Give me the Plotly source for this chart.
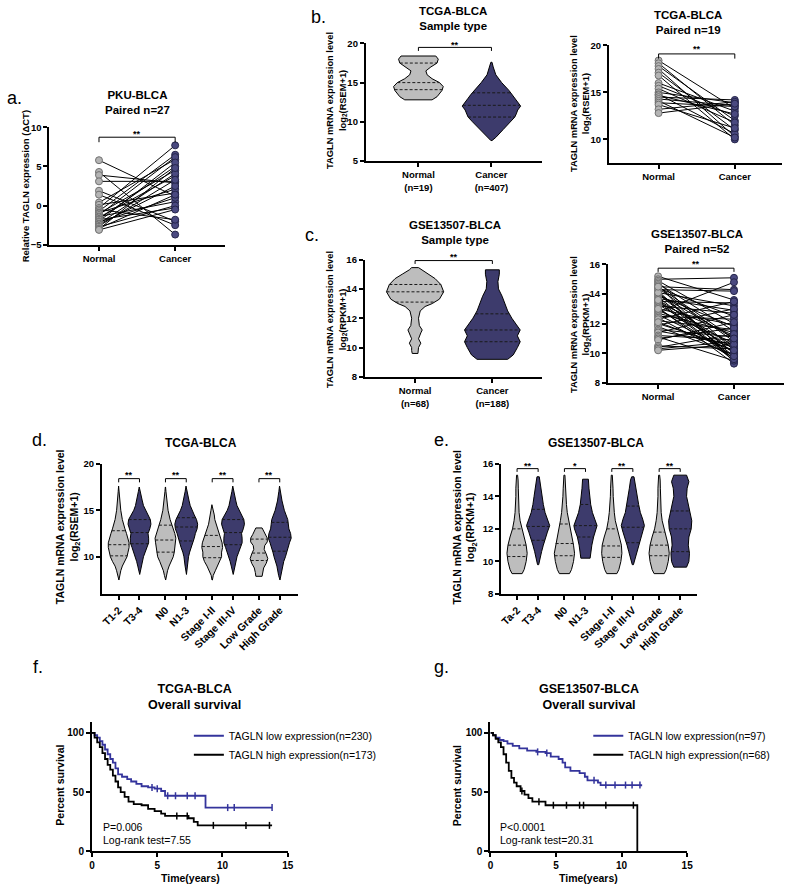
import plotly.graph_objects as go
import numpy as np

W, H = 794, 892
FONT = "Liberation Sans, Arial, sans-serif"
GRAY = "#bdbdbd"
NAVY = "#3d3b6c"
MK_GRAY = "#b4b4b4"
MK_NAVY = "#4a4980"
BLUE = "#34349c"

# ---------------- data ----------------
PAIR_LABELS = ["Normal", "Cancer"]

# a. PKU-BLCA paired (delta CT)
A_NORMAL = [5.8, 4.3, 3.9, 3.1, 1.9, 1.4, 0.4, 0.1, -0.3, -0.5, -0.7, -0.9, -1.0, -1.2,
            -1.4, -1.5, -1.7, -1.8, -2.0, -2.1, -2.3, -2.4, -2.6, -2.7, -2.9, -3.0, -3.1]
A_CANCER = [1.2, -3.7, 2.9, 3.1, -2.0, -2.5, 5.9, 1.6, 7.7, -1.8, 6.5, 2.1, 4.5, 6.2,
            0.5, 3.8, 5.0, -0.3, 5.5, 1.0, 4.1, 2.5, 3.3, 0.0, 1.4, 4.8, -0.5]

# b. TCGA paired n=19
B_PAIR_NORMAL = [18.4, 18.1, 17.8, 17.5, 17.1, 16.8, 16.0, 15.7, 15.4, 15.0, 14.8, 14.7,
                 14.5, 14.3, 14.1, 13.9, 13.7, 13.2, 12.8]
B_PAIR_CANCER = [13.3, 11.5, 12.0, 10.3, 11.0, 10.0, 13.0, 12.5, 11.8, 13.9, 10.6, 12.7,
                 14.2, 13.6, 10.2, 13.5, 11.2, 14.0, 13.8]

# c. GSE13507 paired n=52
C_PAIR_NORMAL = [15.2, 15.0, 14.9, 14.8, 14.7, 14.6, 14.5, 14.4, 14.4, 14.3, 14.2, 14.1, 14.0,
                 14.0, 13.9, 13.8, 13.7, 13.6, 13.5, 13.5, 13.4, 13.3, 13.2, 13.1, 13.0, 12.9,
                 12.8, 12.7, 12.6, 12.5, 12.4, 12.2, 12.0, 11.9, 11.8, 11.6, 11.5, 11.4, 11.2,
                 11.1, 11.0, 10.9, 10.5, 10.4, 10.3, 10.2, 13.6, 14.1, 12.3, 13.0, 14.5, 12.1]
C_PAIR_CANCER = [13.6, 15.1, 12.0, 10.2, 11.5, 9.4, 14.3, 10.8, 12.5, 14.2, 9.6, 13.2, 10.0,
                 11.0, 11.8, 9.8, 12.9, 10.5, 13.4, 9.5, 11.2, 10.3, 12.7, 9.3, 11.9, 10.7,
                 14.8, 11.4, 10.1, 12.3, 9.7, 11.6, 10.4, 13.0, 9.9, 11.1, 10.6, 12.6, 10.9,
                 9.5, 11.7, 12.1, 10.3, 11.3, 10.8, 10.6, 9.6, 10.0, 13.5, 9.8, 11.0, 10.2]

# b. TCGA sample type violins (level, relative width), quartiles
B_VIOLIN_LABELS = ["Normal<br>(n=19)", "Cancer<br>(n=407)"]
B_NORMAL_Y = [12.8, 13.2, 14.0, 14.5, 15.0, 15.5, 16.0, 16.5, 17.0, 17.5, 18.0, 18.4]
B_NORMAL_W = [0.55, 0.75, 0.95, 1.0, 0.85, 0.55, 0.35, 0.3, 0.5, 0.75, 0.8, 0.7]
B_NORMAL_Q = [14.1, 15.0, 17.5]
B_CANCER_Y = [7.6, 8.0, 9.0, 10.0, 10.6, 11.0, 11.5, 12.0, 12.5, 13.0, 13.5, 14.0, 15.0, 16.0, 17.0, 17.6]
B_CANCER_W = [0.02, 0.15, 0.4, 0.65, 0.8, 0.85, 0.9, 1.0, 0.9, 0.8, 0.7, 0.6, 0.35, 0.15, 0.06, 0.02]
B_CANCER_Q = [10.6, 12.1, 13.7]

# c. GSE13507 sample type violins
C_VIOLIN_LABELS = ["Normal<br>(n=68)", "Cancer<br>(n=188)"]
C_NORMAL_Y = [9.6, 9.8, 10.0, 10.3, 10.6, 11.0, 11.2, 11.5, 12.0, 12.5, 12.8, 13.0, 13.3, 13.8,
              14.3, 14.7, 15.0, 15.3, 15.45]
C_NORMAL_W = [0.1, 0.12, 0.12, 0.2, 0.12, 0.2, 0.25, 0.15, 0.12, 0.18, 0.35, 0.6, 0.85, 1.0,
              0.9, 0.7, 0.45, 0.2, 0.12]
C_NORMAL_Q = [13.1, 13.8, 14.3]
C_CANCER_Y = [9.2, 9.5, 10.0, 10.4, 10.8, 11.2, 11.6, 12.0, 12.5, 13.0, 13.5, 14.0, 14.5, 15.0, 15.3]
C_CANCER_W = [0.55, 0.75, 0.9, 1.0, 0.9, 1.0, 0.85, 0.7, 0.55, 0.45, 0.35, 0.22, 0.2, 0.25, 0.25]
C_CANCER_Q = [10.4, 11.2, 12.3]

# d. TCGA clinical subgroups
D_LABELS = ["T1-2", "T3-4", "N0", "N1-3", "Stage I-II", "Stage III-IV", "Low Grade", "High Grade"]
D_Y = [
    [7.5, 8.0, 8.5, 9.0, 9.5, 10.0, 10.5, 11.0, 11.5, 12.0, 12.5, 13.0, 13.5, 14.0, 15.0, 16.0, 17.0, 17.6],
    [8.1, 8.5, 9.0, 9.5, 10.0, 10.5, 11.0, 11.5, 12.0, 12.5, 13.0, 13.5, 14.0, 14.5, 15.0, 15.5, 16.0, 17.0, 17.5],
    [7.5, 8.0, 8.5, 9.0, 9.5, 10.0, 10.5, 11.0, 11.5, 12.0, 12.5, 13.0, 13.5, 14.0, 15.0, 16.0, 17.0, 17.5],
    [8.1, 9.0, 10.0, 10.5, 11.0, 11.5, 12.0, 12.5, 13.0, 13.5, 14.0, 14.5, 15.0, 15.5, 16.0, 17.0, 17.6],
    [7.5, 8.0, 8.5, 9.0, 9.5, 10.0, 10.5, 11.0, 11.5, 12.0, 12.5, 13.0, 13.5, 14.0, 14.5, 15.0, 15.6],
    [8.1, 8.5, 9.0, 9.5, 10.0, 10.5, 11.0, 11.5, 12.0, 12.5, 13.0, 13.5, 14.0, 14.5, 15.0, 15.5, 16.0, 17.0, 17.6],
    [7.9, 8.3, 8.8, 9.3, 9.8, 10.3, 10.8, 11.2, 11.6, 12.0, 12.4, 12.8, 13.1],
    [7.5, 8.0, 9.0, 9.5, 10.0, 10.5, 11.0, 11.5, 12.0, 12.5, 13.0, 13.5, 14.0, 14.5, 15.0, 16.0, 17.0, 17.6],
]
D_W = [
    [0.02, 0.1, 0.2, 0.35, 0.6, 0.8, 0.9, 1.0, 1.0, 0.9, 0.75, 0.6, 0.45, 0.35, 0.2, 0.1, 0.05, 0.01],
    [0.02, 0.08, 0.15, 0.25, 0.35, 0.5, 0.65, 0.8, 0.8, 0.75, 0.9, 1.0, 0.95, 0.75, 0.5, 0.35, 0.25, 0.1, 0.02],
    [0.02, 0.1, 0.2, 0.35, 0.55, 0.75, 0.85, 0.9, 0.95, 1.0, 0.9, 0.75, 0.6, 0.45, 0.25, 0.12, 0.05, 0.01],
    [0.02, 0.1, 0.2, 0.3, 0.45, 0.6, 0.7, 0.8, 0.95, 1.0, 0.9, 0.7, 0.5, 0.35, 0.25, 0.1, 0.02],
    [0.02, 0.1, 0.3, 0.5, 0.75, 0.9, 0.9, 1.0, 0.95, 0.8, 0.65, 0.5, 0.35, 0.25, 0.2, 0.12, 0.03],
    [0.02, 0.08, 0.15, 0.25, 0.35, 0.5, 0.65, 0.8, 0.8, 0.75, 0.9, 1.0, 0.95, 0.75, 0.5, 0.35, 0.25, 0.1, 0.02],
    [0.3, 0.35, 0.45, 0.7, 0.85, 0.7, 0.5, 0.55, 0.8, 0.8, 0.6, 0.4, 0.3],
    [0.02, 0.1, 0.25, 0.35, 0.5, 0.6, 0.7, 0.85, 1.0, 0.95, 0.8, 0.75, 0.7, 0.55, 0.4, 0.2, 0.08, 0.02],
]
D_Q = [[10.1, 11.3, 12.8], [11.4, 12.6, 14.0], [10.5, 11.8, 13.4], [11.7, 13.2, 14.2],
       [9.9, 11.1, 12.3], [11.3, 12.6, 14.0], [9.6, 10.4, 11.9], [10.6, 12.1, 13.7]]
D_STARS = ["**", "**", "**", "**"]

# e. GSE13507 clinical subgroups
E_LABELS = ["Ta-2", "T3-4", "N0", "N1-3", "Stage I-II", "Stage III-IV", "Low Grade", "High Grade"]
E_Y = [
    [9.25, 9.5, 10.0, 10.5, 11.0, 11.5, 12.0, 12.5, 13.0, 13.5, 14.0, 14.5, 15.0, 15.3],
    [9.8, 10.2, 10.6, 11.0, 11.4, 11.8, 12.2, 12.6, 13.0, 13.5, 14.0, 14.5, 15.0, 15.2],
    [9.25, 9.5, 10.0, 10.5, 11.0, 11.5, 12.0, 12.5, 13.0, 13.5, 14.0, 14.5, 15.0, 15.3],
    [10.2, 10.6, 11.0, 11.5, 12.0, 12.2, 12.6, 13.0, 13.5, 14.0, 14.5, 15.05],
    [9.25, 9.5, 10.0, 10.5, 11.0, 11.5, 12.0, 12.5, 13.0, 13.5, 14.0, 14.5, 15.0, 15.3],
    [9.8, 10.2, 10.6, 11.0, 11.4, 11.8, 12.2, 12.6, 13.0, 13.5, 14.0, 14.5, 15.0, 15.2],
    [9.25, 9.5, 10.0, 10.5, 11.0, 11.5, 12.0, 12.5, 13.0, 13.5, 14.0, 14.5, 15.0, 15.3],
    [9.65, 10.0, 10.5, 11.0, 11.5, 12.0, 12.5, 13.0, 13.5, 14.0, 14.5, 14.9, 15.3],
]
E_W = [
    [0.5, 0.7, 0.9, 1.0, 0.9, 0.7, 0.45, 0.3, 0.2, 0.15, 0.12, 0.12, 0.1, 0.05],
    [0.05, 0.15, 0.3, 0.45, 0.6, 0.8, 1.0, 0.8, 0.6, 0.45, 0.35, 0.25, 0.15, 0.1],
    [0.5, 0.7, 0.9, 1.0, 0.9, 0.75, 0.55, 0.4, 0.28, 0.2, 0.15, 0.12, 0.1, 0.05],
    [0.4, 0.45, 0.55, 0.7, 0.95, 1.0, 0.8, 0.6, 0.45, 0.35, 0.3, 0.25],
    [0.5, 0.7, 0.9, 1.0, 0.95, 0.75, 0.5, 0.35, 0.25, 0.18, 0.14, 0.12, 0.1, 0.05],
    [0.05, 0.2, 0.35, 0.5, 0.65, 0.85, 1.0, 0.85, 0.65, 0.5, 0.4, 0.3, 0.2, 0.1],
    [0.5, 0.7, 0.9, 1.0, 0.9, 0.7, 0.45, 0.3, 0.2, 0.15, 0.12, 0.12, 0.1, 0.05],
    [0.55, 0.75, 0.8, 0.7, 0.75, 0.95, 1.0, 0.85, 0.7, 0.55, 0.6, 0.75, 0.55],
]
E_Q = [[10.3, 11.0, 12.0], [11.3, 12.15, 13.2], [10.35, 11.1, 12.3], [11.5, 12.2, 13.5],
       [10.25, 10.95, 12.0], [11.15, 12.1, 13.4], [10.35, 11.0, 11.8], [10.6, 12.0, 13.1]]
E_STARS = ["**", "*", "**", "**"]

# f. TCGA overall survival (years, percent)
F_LOW_T = [0, 0.2, 0.4, 0.6, 0.8, 1.0, 1.2, 1.4, 1.6, 1.8, 2.0, 2.3, 2.7, 3.0, 3.4, 3.8, 4.3, 4.8, 5.3, 5.6, 8.7, 13.8]
F_LOW_S = [100, 98, 96, 93, 90, 86, 82, 78, 75, 70, 65, 63, 61, 59, 57, 55, 54, 53, 51, 47, 37, 37]
F_LOW_CENS = [4.6, 5.0, 5.8, 6.4, 7.3, 7.9, 10.4, 10.9, 13.8]
F_HIGH_T = [0, 0.2, 0.4, 0.6, 0.8, 1.0, 1.2, 1.4, 1.6, 1.8, 2.0, 2.2, 2.5, 2.8, 3.2, 3.8, 4.3, 4.8, 5.3, 5.6, 7.4, 7.8, 8.1, 13.8]
F_HIGH_S = [100, 96, 92, 88, 83, 78, 73, 69, 64, 59, 54, 50, 46, 42, 40, 39, 36, 34, 32, 30, 28, 25, 22, 22]
F_HIGH_CENS = [6.5, 7.3, 9.3, 11.8, 13.6]
F_NAMES = ["TAGLN low expression(n=230)", "TAGLN high expression(n=173)"]
F_STATS = ["P=0.006", "Log-rank test=7.55"]

# g. GSE13507 overall survival
G_LOW_T = [0, 0.2, 0.4, 0.7, 1.0, 1.3, 1.7, 2.2, 2.8, 3.5, 4.2, 4.6, 5.2, 5.5, 5.7, 6.1, 6.8, 7.2, 7.4, 8.2, 8.4, 11.5]
G_LOW_S = [100, 98, 96, 94, 93, 91, 89, 87, 85, 84, 83, 80, 78, 75, 71, 68, 66, 63, 60, 58, 56, 55]
G_LOW_CENS = [3.6, 4.3, 7.9, 8.8, 9.5, 10.3, 10.8, 11.4]
G_HIGH_T = [0, 0.2, 0.4, 0.6, 0.8, 1.0, 1.2, 1.4, 1.6, 1.8, 2.0, 2.3, 2.6, 2.9, 3.2, 4.2, 11.2]
G_HIGH_S = [100, 98, 95, 92, 88, 82, 75, 68, 62, 58, 55, 51, 48, 45, 42, 39, 0]
G_HIGH_CENS = [2.4, 3.7, 4.8, 5.8, 6.8, 7.1, 8.8, 10.9]
G_NAMES = ["TAGLN low expression(n=97)", "TAGLN high expression(n=68)"]
G_STATS = ["P<0.0001", "Log-rank test=20.31"]

# ---------------- helpers ----------------
fig = go.Figure()
layout = {}
annotations = []
YRANGES = {}


def px_x(p):
    return p / W


def px_y(p):
    return 1 - p / H


def tfont(size=9.5, bold=True):
    return dict(family=FONT, size=size, color="black", weight="bold" if bold else "normal")


def make_axes(n, xpx, ypx, xr, yr, xt, xtt, yt, xangle=0, xfs=9.5, yfs=9.5):
    sx = "" if n == 1 else str(n)
    common = dict(showline=True, linecolor="black", linewidth=2, ticks="outside", ticklen=4,
                  tickwidth=1.5, tickcolor="black", showgrid=False, zeroline=False,
                  fixedrange=True, tickmode="array")
    layout["xaxis" + sx] = dict(domain=[px_x(xpx[0]), px_x(xpx[1])], range=xr, anchor="y" + sx,
                                tickvals=xt, ticktext=xtt, tickangle=xangle, tickfont=tfont(xfs),
                                **common)
    layout["yaxis" + sx] = dict(domain=[px_y(ypx[1]), px_y(ypx[0])], range=yr, anchor="x" + sx,
                                tickvals=yt, tickfont=tfont(yfs), **common)
    YRANGES["y" + sx] = yr
    return "x" + sx, "y" + sx


def note(x, y, text, size=11, bold=True, xanchor="center", yanchor="middle", angle=0):
    annotations.append(dict(x=px_x(x), y=px_y(y), xref="paper", yref="paper", text=text,
                            showarrow=False, font=tfont(size, bold), xanchor=xanchor,
                            yanchor=yanchor, textangle=angle))


def add_violin(xa, ya, center, ys, ws, qs, hw, color):
    ys = np.array(ys, dtype=float)
    ws = np.array(ws, dtype=float) * hw
    x = np.concatenate([center + ws, (center - ws)[::-1], [center + ws[0]]])
    y = np.concatenate([ys, ys[::-1], [ys[0]]])
    fig.add_trace(go.Scatter(x=x, y=y, mode="lines", fill="toself", fillcolor=color,
                             line=dict(color="black", width=1), xaxis=xa, yaxis=ya,
                             showlegend=False, hoverinfo="skip"))
    qx, qy = [], []
    for q in qs:
        w = float(np.interp(q, ys, ws))
        qx += [center - w, center + w, None]
        qy += [q, q, None]
    fig.add_trace(go.Scatter(x=qx, y=qy, mode="lines", line=dict(color="#1a1a1a", width=1, dash="3px,2px"),
                             xaxis=xa, yaxis=ya, showlegend=False, hoverinfo="skip"))


def add_bracket(xa, ya, x0, x1, ytop, yleg, stars, ystar, size=9):
    fig.add_trace(go.Scatter(x=[x0, x0, x1, x1], y=[yleg, ytop, ytop, yleg], mode="lines",
                             line=dict(color="black", width=1), xaxis=xa, yaxis=ya,
                             showlegend=False, hoverinfo="skip", cliponaxis=False))
    lo, hi = YRANGES[ya]
    annotations.append(dict(x=(x0 + x1) / 2, y=(ystar - lo) / (hi - lo), xref=xa,
                            yref=ya + " domain", text=stars, showarrow=False, font=tfont(size),
                            xanchor="center", yanchor="middle", yshift=-2))


def add_pairs(xa, ya, normal, cancer, msize=7):
    lx, ly = [], []
    for nv, cv in zip(normal, cancer):
        lx += [0, 1, None]
        ly += [nv, cv, None]
    fig.add_trace(go.Scatter(x=lx, y=ly, mode="lines", line=dict(color="black", width=1),
                             xaxis=xa, yaxis=ya, showlegend=False, hoverinfo="skip"))
    fig.add_trace(go.Scatter(x=[0] * len(normal), y=normal, mode="markers",
                             marker=dict(size=msize, color=MK_GRAY, line=dict(color="#707070", width=1)),
                             xaxis=xa, yaxis=ya, showlegend=False, cliponaxis=False))
    fig.add_trace(go.Scatter(x=[1] * len(cancer), y=cancer, mode="markers",
                             marker=dict(size=msize, color=MK_NAVY, line=dict(color="#25254a", width=1)),
                             xaxis=xa, yaxis=ya, showlegend=False, cliponaxis=False))


def add_surv(xa, ya, t, s, cens, color, name, legend):
    fig.add_trace(go.Scatter(x=t, y=s, mode="lines", line=dict(color=color, width=1.8, shape="hv"),
                             name=name, legend=legend, xaxis=xa, yaxis=ya, cliponaxis=False))
    idx = np.searchsorted(np.array(t), np.array(cens), side="right") - 1
    cy = [s[i] for i in idx]
    fig.add_trace(go.Scatter(x=cens, y=cy, mode="markers",
                             marker=dict(symbol="line-ns", size=5, line=dict(color=color, width=1.5)),
                             xaxis=xa, yaxis=ya, showlegend=False, hoverinfo="skip", cliponaxis=False))


YT_RSEM = "TAGLN mRNA expression level<br>log<sub>2</sub>(RSEM+1)"
YT_RPKM = "TAGLN mRNA expression level<br>log<sub>2</sub>(RPKM+1)"

# ---------------- panel a ----------------
xa, ya = make_axes(1, (47, 225), (123, 242), [-0.65, 1.66], [-5, 10], [0, 1], PAIR_LABELS, [-5, 0, 5, 10])
add_pairs(xa, ya, A_NORMAL, A_CANCER)
add_bracket(xa, ya, 0, 1, 8.74, 8.1, "**", 9.45)
note(2, 93, "a.", 18, False, "left")
note(136, 98, "PKU-BLCA<br>Paired n=27", 11.5)
note(23, 183, "Relative TAGLN expression (ΔCT)", 9.5, True, angle=-90)

# ---------------- panel b left ----------------
xa, ya = make_axes(2, (367, 545), (38, 157), [-0.72, 1.69], [5, 20], [0, 1], B_VIOLIN_LABELS, [5, 10, 15, 20])
add_violin(xa, ya, 0, B_NORMAL_Y, B_NORMAL_W, B_NORMAL_Q, 0.34, GRAY)
add_violin(xa, ya, 1, B_CANCER_Y, B_CANCER_W, B_CANCER_Q, 0.4, NAVY)
add_bracket(xa, ya, 0, 1, 19.5, 19.05, "**", 20.1)
note(310, 11, "b.", 18, False, "left")
note(455, 13, "TCGA-BLCA<br>Sample type", 11.5)
note(338, 96, YT_RSEM, 9.3, True, angle=-90)

# ---------------- panel b right ----------------
xa, ya = make_axes(3, (613, 788), (40, 159), [-0.65, 1.62], [7.5, 20], [0, 1], PAIR_LABELS, [10, 15, 20])
add_pairs(xa, ya, B_PAIR_NORMAL, B_PAIR_CANCER)
add_bracket(xa, ya, 0, 1, 19.1, 18.6, "**", 19.8)
note(693, 17, "TCGA-BLCA<br>Paired n=19", 11.5)
note(584, 99, YT_RSEM, 9.3, True, angle=-90)

# ---------------- panel c left ----------------
xa, ya = make_axes(4, (366, 545), (257, 376), [-0.65, 1.64], [8, 16], [0, 1], C_VIOLIN_LABELS, [8, 10, 12, 14, 16])
add_violin(xa, ya, 0, C_NORMAL_Y, C_NORMAL_W, C_NORMAL_Q, 0.37, GRAY)
add_violin(xa, ya, 1, C_CANCER_Y, C_CANCER_W, C_CANCER_Q, 0.36, NAVY)
add_bracket(xa, ya, 0, 1, 15.93, 15.7, "**", 16.3)
note(303, 232, "c.", 18, False, "left")
note(457, 230, "GSE13507-BLCA<br>Sample type", 11.5)
note(338, 318, YT_RPKM, 9.3, True, angle=-90)

# ---------------- panel c right ----------------
xa, ya = make_axes(5, (612, 790), (262, 382), [-0.66, 1.66], [8, 16], [0, 1], PAIR_LABELS, [8, 10, 12, 14, 16])
add_pairs(xa, ya, C_PAIR_NORMAL, C_PAIR_CANCER)
add_bracket(xa, ya, 0, 1, 15.75, 15.5, "**", 16.2)
note(702, 239, "GSE13507-BLCA<br>Paired n=52", 11.5)
note(584, 323, YT_RPKM, 9.3, True, angle=-90)

# ---------------- panel d ----------------
pos = [(i // 2) * 2.25 + (i % 2) for i in range(8)]
xa, ya = make_axes(6, (100, 298), (464, 596), [-0.81, 8.61], [6, 20], pos, D_LABELS, [10, 15, 20], xangle=-45, xfs=10.5)
for i in range(8):
    add_violin(xa, ya, pos[i], D_Y[i], D_W[i], D_Q[i], 0.5 if i % 2 == 0 else 0.55, GRAY if i % 2 == 0 else NAVY)
for k in range(4):
    add_bracket(xa, ya, pos[2 * k], pos[2 * k + 1], 18.4, 18.0, D_STARS[k], 19.0)
note(27, 440, "d.", 18, False, "left")
note(200, 443, "TCGA-BLCA", 12)
note(66, 528, YT_RSEM, 10.5, True, angle=-90)

# ---------------- panel e ----------------
xa, ya = make_axes(7, (504, 702), (464, 596), [-0.75, 8.55], [8, 16], pos, E_LABELS, [8, 10, 12, 14, 16], xangle=-45, xfs=10.5)
for i in range(8):
    add_violin(xa, ya, pos[i], E_Y[i], E_W[i], E_Q[i], 0.48 if i % 2 == 0 else 0.55, GRAY if i % 2 == 0 else NAVY)
for k in range(4):
    add_bracket(xa, ya, pos[2 * k], pos[2 * k + 1], 15.7, 15.5, E_STARS[k], 16.0)
note(434, 440, "e.", 18, False, "left")
note(600, 443, "GSE13507-BLCA", 12)
note(467, 528, YT_RPKM, 10.5, True, angle=-90)

# ---------------- panel f ----------------
xa, ya = make_axes(8, (90, 288), (726, 857), [0, 15], [0, 109], [0, 5, 10, 15], ["0", "5", "10", "15"], [0, 50, 100], xfs=10, yfs=10)
add_surv(xa, ya, F_LOW_T, F_LOW_S, F_LOW_CENS, BLUE, F_NAMES[0], "legend")
add_surv(xa, ya, F_HIGH_T, F_HIGH_S, F_HIGH_CENS, "black", F_NAMES[1], "legend")
note(28, 670, "f.", 18, False, "left")
note(194, 700, "TCGA-BLCA<br>Overall survival", 12.5)
note(58, 790, "Percent survival", 10.5, True, angle=-90)
note(190, 884, "Time(years)", 10.5)
note(99, 832, F_STATS[0], 10.5, False, "left")
note(99, 845, F_STATS[1], 10.5, False, "left")

# ---------------- panel g ----------------
xa, ya = make_axes(9, (493, 692), (726, 857), [0, 15], [0, 109], [0, 5, 10, 15], ["0", "5", "10", "15"], [0, 50, 100], xfs=10, yfs=10)
add_surv(xa, ya, G_LOW_T, G_LOW_S, G_LOW_CENS, BLUE, G_NAMES[0], "legend2")
add_surv(xa, ya, G_HIGH_T, G_HIGH_S, G_HIGH_CENS, "black", G_NAMES[1], "legend2")
note(434, 670, "g.", 18, False, "left")
note(593, 700, "GSE13507-BLCA<br>Overall survival", 12.5)
note(460, 790, "Percent survival", 10.5, True, angle=-90)
note(592, 884, "Time(years)", 10.5)
note(501, 832, G_STATS[0], 10.5, False, "left")
note(501, 845, G_STATS[1], 10.5, False, "left")

leg_common = dict(xanchor="left", yanchor="top", bgcolor="rgba(0,0,0,0)", tracegroupgap=0,
                  font=dict(family=FONT, size=10.5, color="black"), itemwidth=30)
layout["legend"] = dict(x=px_x(188), y=px_y(725), **leg_common)
layout["legend2"] = dict(x=px_x(592), y=px_y(725), **leg_common)

fig.update_layout(width=W, height=H, margin=dict(l=0, r=0, t=0, b=0),
                  paper_bgcolor="white", plot_bgcolor="white",
                  font=dict(family=FONT, color="black"), showlegend=True,
                  annotations=annotations, **layout)
fig.write_html("out.html", config={"displayModeBar": False},
               post_script="document.body.style.margin='0';document.body.style.padding='0';")
